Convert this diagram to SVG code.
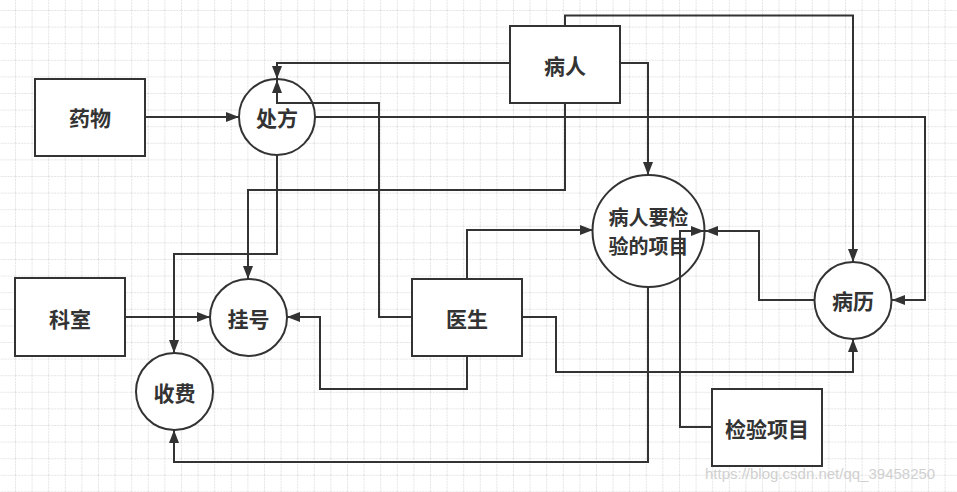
<svg xmlns="http://www.w3.org/2000/svg" width="957" height="492" viewBox="0 0 957 492">
<defs>
<pattern id="grid" patternUnits="userSpaceOnUse" x="15" y="10" width="16.6" height="16.6">
<path d="M0,0.5 H16.6 M0.5,0 V16.6" fill="none" stroke="#e4e4e4" stroke-width="1" stroke-dasharray="2,1"/>
</pattern>
<marker id="arr" markerUnits="userSpaceOnUse" markerWidth="13" markerHeight="10" refX="13" refY="5" orient="auto">
<path d="M0,0 L13,5 L0,10 z" fill="#333"/>
</marker>
<style>
.node{fill:#fff;stroke:#333;stroke-width:2}
.lbl{font-family:"Noto Sans CJK SC","Noto Sans",sans-serif;font-weight:bold;font-size:21px;fill:#333;text-anchor:middle;dominant-baseline:central}
.sm{font-size:20px}
.edge{fill:none;stroke:#333;stroke-width:2;marker-end:url(#arr)}
.wm{font-family:"Liberation Sans",sans-serif;font-size:15px;fill:#d0d0d0}
</style>
</defs>
<rect width="957" height="492" fill="#fff"/>
<rect width="957" height="492" fill="url(#grid)"/>
<g id="n-yaowu"><rect class="node" x="35" y="79" width="110" height="77"/><text class="lbl" x="90" y="117">药物</text></g>
<g id="n-chufang"><circle class="node" cx="277" cy="117" r="38"/><text class="lbl" x="277" y="117">处方</text></g>
<g id="n-bingren"><rect class="node" x="510" y="26" width="110" height="77"/><text class="lbl" x="565" y="65">病人</text></g>
<g id="n-jianyan"><circle class="node" cx="648.5" cy="231" r="56"/><text class="lbl sm" x="648.5" y="216.5">病人要检</text><text class="lbl sm" x="648.5" y="245.5">验的项目</text></g>
<g id="n-bingli"><circle class="node" cx="853" cy="300.5" r="38.5"/><text class="lbl" x="853" y="300">病历</text></g>
<g id="n-keshi"><rect class="node" x="15" y="278" width="110" height="78"/><text class="lbl" x="70" y="318">科室</text></g>
<g id="n-guahao"><circle class="node" cx="248.5" cy="317.5" r="38.5"/><text class="lbl" x="248.5" y="318">挂号</text></g>
<g id="n-shoufei"><circle class="node" cx="174.5" cy="391.5" r="38.5"/><text class="lbl" x="174.5" y="392">收费</text></g>
<g id="n-yisheng"><rect class="node" x="412" y="279" width="110" height="77"/><text class="lbl" x="467" y="318">医生</text></g>
<g id="n-jianyanxiangmu"><rect class="node" x="712" y="389" width="110" height="77"/><text class="lbl" x="767" y="428">检验项目</text></g>
<g id="connectors">
<path class="edge" d="M145,117 H239"/>
<path class="edge" d="M125,317 H210"/>
<path class="edge" d="M510,63 H277 V79"/>
<path class="edge" d="M412,317 H379 V103 H277 V80"/>
<path class="edge" d="M315,117 H925 V300 H892"/>
<path class="edge" d="M277,155 V254 H174 V353"/>
<path class="edge" d="M565,103 V190 H248 V279"/>
<path class="edge" d="M620,63 H648 V175"/>
<path class="edge" d="M565,26 V15.5 H853 V262"/>
<path class="edge" d="M467,279 V230 H593"/>
<path class="edge" d="M467,356 V389 H320 V317 H287"/>
<path class="edge" d="M522,317 H556 V372 H853 V339"/>
<path class="edge" d="M648,287 V462 H174 V430"/>
<path class="edge" d="M712,427 H680 V231 H704"/>
<path class="edge" d="M814,300 H759 V231 H705"/>
</g>
<text class="wm" x="705" y="479">https://blog.csdn.net/qq_39458250</text>
</svg>
